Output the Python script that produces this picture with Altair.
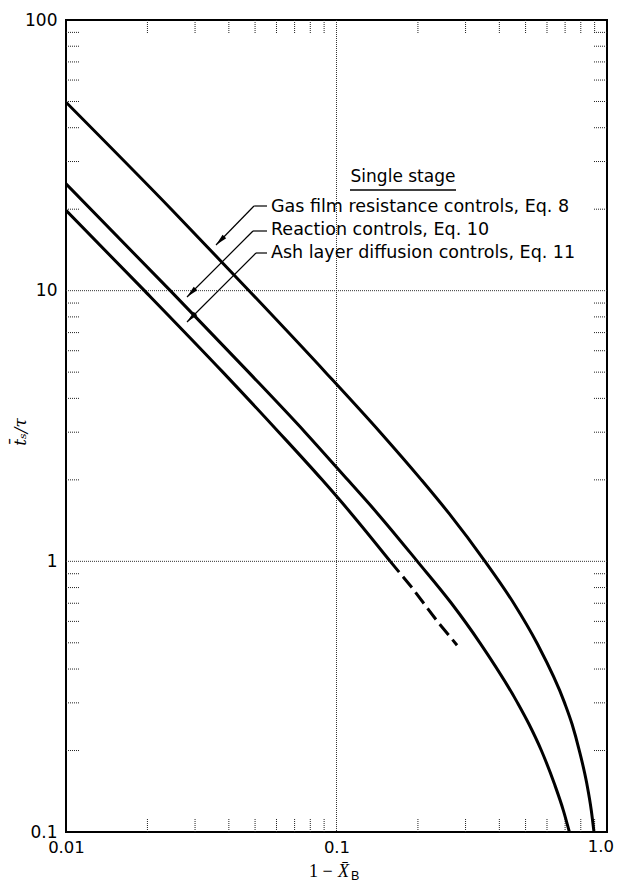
import math
import altair as alt
import pandas as pd

# ---- data ----
gas_x = [0.0100, 0.0245, 0.0475, 0.091, 0.145, 0.206, 0.261, 0.354, 0.452, 0.550, 0.697, 0.743, 0.790, 0.843, 0.875, 0.895]
gas_y = [49.7, 20, 10, 5, 3, 2, 1.5, 1.0, 0.7, 0.5, 0.3, 0.25, 0.2, 0.15, 0.12, 0.1]
rxn_x = [0.0100, 0.0243, 0.0473, 0.0765, 0.110, 0.142, 0.199, 0.266, 0.339, 0.467, 0.515, 0.572, 0.640, 0.690, 0.726]
rxn_y = [24.8, 10, 5, 3, 2, 1.5, 1.0, 0.7, 0.5, 0.3, 0.25, 0.2, 0.15, 0.12, 0.1]
ash_x = [0.0100, 0.0195, 0.0380, 0.0612, 0.0885, 0.1135, 0.158]
ash_y = [19.8, 10, 5, 3, 2, 1.5, 1.0]
ash_ext_x = [0.158, 0.190, 0.236, 0.279]
ash_ext_y = [1.0, 0.8, 0.6, 0.49]

x_labels = [0.01, 0.1]
x_last_label = [1.0]
y_labels = [0.1, 1, 10, 100]
x_grid = [0.1]
y_grid = [1, 10]
x_minor = [0.02, 0.03, 0.04, 0.05, 0.06, 0.07, 0.08, 0.09,
           0.2, 0.3, 0.4, 0.5, 0.6, 0.7, 0.8, 0.9]
y_minor = [0.2, 0.3, 0.4, 0.5, 0.6, 0.7, 0.8, 0.9,
           2, 3, 4, 5, 6, 7, 8, 9,
           20, 30, 40, 50, 60, 70, 80, 90]

title_text = "Single stage"
labels = ["Gas film resistance controls, Eq. 8",
          "Reaction controls, Eq. 10",
          "Ash layer diffusion controls, Eq. 11"]

# ---- layout ----
W, H = 541, 812
OX, OY = 66, 20  # page position of plot origin
FONT = "DejaVu Sans"

xscale = alt.Scale(type="log", domain=[0.01, 1.0], nice=False)
yscale = alt.Scale(type="log", domain=[0.1, 100], nice=False)

xaxis = alt.Axis(values=x_labels, title=None, ticks=False, grid=False, domain=False,
                 labelExpr="datum.value >= 0.1 ? '0.1' : '0.01'",
                 labelFont=FONT, labelFontSize=16.5, labelColor="black", labelPadding=7,
                 labelFlush=False, labelOverlap=False)
yaxis = alt.Axis(values=y_labels, title=None, ticks=False, grid=False, domain=False,
                 labelExpr="datum.value >= 100 ? '100' : (datum.value >= 10 ? '10' : (datum.value >= 1 ? '1' : '0.1'))",
                 labelFont=FONT, labelFontSize=17, labelColor="black", labelPadding=9,
                 labelFlush=False, labelOverlap=False)

X = lambda f: alt.X(f, type="quantitative", scale=xscale, axis=xaxis)
Y = lambda f: alt.Y(f, type="quantitative", scale=yscale, axis=yaxis)


def curve_df(name, xs, ys):
    return pd.DataFrame({"x": xs, "y": ys, "series": name, "order": range(len(xs))})


solid = pd.concat([curve_df("gas", gas_x, gas_y),
                   curve_df("rxn", rxn_x, rxn_y),
                   curve_df("ash", ash_x, ash_y)])
dashed = curve_df("ash_ext", ash_ext_x, ash_ext_y)

layers = []

# gridlines
layers.append(alt.Chart(pd.DataFrame({"v": x_grid})).mark_rule(
    color="#333", strokeWidth=1, strokeDash=[1, 1]).encode(x=X("v")))
layers.append(alt.Chart(pd.DataFrame({"v": y_grid})).mark_rule(
    color="#333", strokeWidth=1, strokeDash=[1, 1]).encode(y=Y("v")))

# inner minor ticks on all four sides
TL = 13
tick_style = dict(color="#222", strokeWidth=1, strokeDash=[1, 1])
xm = alt.Chart(pd.DataFrame({"v": x_minor}))
ym = alt.Chart(pd.DataFrame({"v": y_minor}))
layers.append(xm.mark_rule(**tick_style).encode(x=X("v"), y=alt.value(0), y2=alt.value(TL)))
layers.append(xm.mark_rule(**tick_style).encode(x=X("v"), y=alt.value(H - TL), y2=alt.value(H)))
layers.append(ym.mark_rule(**tick_style).encode(y=Y("v"), x=alt.value(0), x2=alt.value(TL)))
layers.append(ym.mark_rule(**tick_style).encode(y=Y("v"), x=alt.value(W - TL), x2=alt.value(W)))

# last x tick label (kept inside the page edge)
layers.append(alt.Chart(pd.DataFrame({"v": x_last_label, "t": ["1.0"]})).mark_text(
    font=FONT, fontSize=16.5, align="right", baseline="top", dx=7, dy=7, color="black").encode(
    x=X("v"), y=alt.value(H), text="t:N"))

# curves
layers.append(alt.Chart(solid).mark_line(color="black", strokeWidth=3, interpolate="monotone",
                                         clip=True).encode(
    x=X("x"), y=Y("y"), detail="series:N", order="order:Q"))
layers.append(alt.Chart(dashed).mark_line(color="black", strokeWidth=3, strokeDash=[14, 6],
                                          clip=True).encode(
    x=X("x"), y=Y("y"), order="order:Q"))

one = alt.Data(values=[{}])


def text(t, px, py, size=17, align="left", baseline="middle", font=FONT, style="normal", angle=0):
    return alt.Chart(one).mark_text(text=t, font=font, fontSize=size, align=align, baseline=baseline,
                                    fontStyle=style, angle=angle, color="black").encode(
        x=alt.value(px - OX), y=alt.value(py - OY))


def seg(x0, y0, x1, y1, w=1.2):
    return alt.Chart(one).mark_rule(color="black", strokeWidth=w).encode(
        x=alt.value(x0 - OX), y=alt.value(y0 - OY), x2=alt.value(x1 - OX), y2=alt.value(y1 - OY))


def head(x0, y0, x1, y1, length=12):
    dx, dy = x1 - x0, y1 - y0
    L = math.hypot(dx, dy)
    ux, uy = dx / L, dy / L
    cx, cy = x1 - ux * length / 2, y1 - uy * length / 2
    ang = math.degrees(math.atan2(-ux, uy)) % 360
    return alt.Chart(one).mark_point(shape="M0,1L-0.42,-1L0.42,-1Z", filled=True, color="black",
                                     opacity=1, size=length * length, angle=ang).encode(
        x=alt.value(cx - OX), y=alt.value(cy - OY))


# annotation block
layers.append(text(title_text, 403, 177, align="center"))
layers.append(seg(350, 190, 456, 190, w=1.5))
rows = [207, 230, 253]
elbow = [(254, 206), (253, 231), (256, 253)]
tips = [(216, 245), (187, 297), (187, 322)]
for lab, ry, (ex, ey), (tx, ty) in zip(labels, rows, elbow, tips):
    layers.append(text(lab, 271, ry, size=17.5))
    layers.append(seg(267, ey, ex, ey))
    layers.append(seg(ex, ey, tx, ty))
    layers.append(head(ex, ey, tx, ty))

# axis titles
layers.append(text("t\u0304\u209b/\u03c4", 21, 432, size=17, align="center", font="DejaVu Serif",
                   style="italic", angle=270))
layers.append(text("1 \u2212", 309, 877, size=18, baseline="alphabetic", font="Liberation Serif"))
layers.append(text("X\u0304", 338, 877, size=18, baseline="alphabetic", font="Liberation Serif",
                   style="italic"))
layers.append(text("B", 351, 880, size=12.5, baseline="alphabetic", font="Liberation Sans"))

chart = alt.layer(*layers).properties(
    width=W, height=H,
    autosize=alt.AutoSizeParams(type="none"),
    padding={"left": 58, "top": 12, "right": 7, "bottom": 52},
    background="white",
).configure_view(stroke="black", strokeWidth=2)

chart.save("out.html", embed_options={"renderer": "svg", "actions": False})
